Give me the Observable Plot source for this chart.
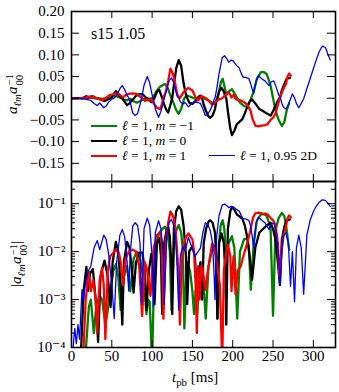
<!DOCTYPE html>
<html><head><meta charset="utf-8">
<script src="https://cdn.jsdelivr.net/npm/d3@7"></script>
<script src="https://cdn.jsdelivr.net/npm/@observablehq/plot@0.6"></script>
<style>
body{margin:0;background:#fff;}
#wrap{position:relative;width:339px;height:392px;font-family:"Liberation Serif","DejaVu Serif",serif;color:#000;overflow:hidden;}
#wrap svg{position:absolute;left:0;overflow:visible;}
.ov{position:absolute;white-space:nowrap;font-size:15px;line-height:1;}
.leg{line-height:12px;}
.rot{transform:translate(-50%,-50%) rotate(-90deg);}
.ss{display:inline-flex;flex-direction:column;font-size:0.72em;line-height:0.95;vertical-align:middle;margin-left:1px;}
sub{font-size:0.72em;line-height:0;}
.lg{position:absolute;height:0;border-top-style:solid;}
</style></head><body><div id="wrap"></div>
<script>
// ---- data: [t_pb (ms), a_lm / a_00] ----
const green = [[0,1e-6],[16,5e-5],[18,1e-4],[21.5,7e-4],[24,1e-3],[27.7,2e-4],[31,-8e-4],[35,-1.2e-3],[38,-1e-3],[42,-3e-4],[45,6e-4],[48,1.5e-3],[52,4e-3],[55,5.5e-3],[58,3e-3],[61,6e-4],[65,-3e-3],[69,-5e-3],[71,-2.5e-3],[73,-1.5e-3],[77,-7e-3],[81,-0.01],[85,-0.007],[89,-0.003],[93,-5e-4],[95,-1e-3],[97,-9e-4],[100,5e-5],[103,0.008],[106,0.018],[109,0.025],[113,0.03],[116,0.033],[119,0.025],[122,0.01],[124,6e-4],[127,-0.013],[130,-0.028],[133,-0.036],[136,-0.025],[138,-0.012],[140,-2.5e-4],[143,0.006],[147,0.004],[150,1.5e-3],[152,5e-4],[154,-1.5e-3],[156,-5e-4],[158,2e-3],[161,4e-3],[164,2e-3],[166.5,4e-4],[170,-5e-3],[174,-0.01],[177,-0.013],[179,-0.008],[181,4e-4],[183,0.015],[185,0.035],[187.5,0.045],[189.5,0.03],[192,0.008],[195,0.015],[199,0.021],[202,0.012],[205.6,4e-4],[209,-0.01],[214,-0.018],[218,-0.019],[220,-0.012],[222.5,-1.6e-3],[226,0.015],[230,0.045],[235,0.06],[239,0.06],[242,0.056],[245,0.04],[247,0.029],[250,4.6e-4],[253,-0.028],[257,-0.05],[261,-0.064],[264,-0.055],[267,-0.028],[270,-0.011]];
const black = [[0,1e-6],[10,3e-5],[12,1e-4],[15,1.5e-3],[18.5,4.8e-3],[20.5,1.5e-3],[23,3.5e-3],[26.5,4.3e-3],[30,1e-3],[33,1.3e-4],[36,-3e-3],[38,-4.3e-3],[41,-6.5e-3],[45,-3e-3],[48.5,-7e-4],[51,6e-3],[55,0.016],[58,0.01],[61,0.002],[63,3e-4],[65,-0.006],[69,-0.016],[72,-0.012],[75,-0.004],[77,-1.4e-3],[80,0.006],[84,0.0095],[88,0.0095],[91,0.004],[93,6e-4],[96,-0.004],[99,-0.009],[101,-0.005],[103,8e-4],[106,0.015],[109,0.019],[111,0.008],[112.5,5e-4],[115,-0.015],[118,-0.028],[120,-0.033],[122,-0.02],[124,-0.005],[125,5e-4],[127,0.03],[130,0.07],[133,0.088],[136,0.075],[139,0.035],[142,0.008],[143.5,8e-4],[146,-0.01],[150,-0.013],[153,-0.008],[156,-1e-3],[158,0.004],[160,0.006],[162,1e-3],[164,-0.015],[167,-0.03],[170,-0.042],[172,-0.045],[175,-0.04],[178,-0.025],[180,-0.005],[181,4e-4],[183,0.015],[186,0.024],[189,0.015],[191,0.003],[192,3e-4],[194,-0.03],[197,-0.07],[199,-0.085],[202,-0.075],[205,-0.06],[208,-0.055],[212,-0.048],[215,-0.035],[218,-0.02],[221,-0.008],[224,-0.0026],[228,-0.012],[233,-0.025],[238,-0.03],[243,-0.036],[247,-0.04],[250,-0.03],[253,-0.018],[256,-0.006],[258.5,0.002],[261,0.018],[264,0.033],[267,0.045],[271,0.047]];
const red = [[0,1e-6],[13,5e-5],[15,1e-4],[17.6,1e-3],[21.5,3.8e-3],[24,1.5e-3],[27,2.5e-3],[30,1e-3],[31.8,2e-4],[35,-2.6e-3],[38,-4.5e-3],[40,-2e-3],[42,-1.5e-4],[45,4e-3],[48,8e-3],[51,9e-3],[55,0.011],[59,0.009],[61,0.006],[64,0.002],[67,0.007],[71,0.01],[76,0.011],[80,0.01],[84,0.005],[87.6,4.5e-4],[91,-0.006],[94,-0.004],[98,-1.2e-3],[102,-0.012],[106,-0.022],[110,-0.025],[112,-0.015],[114,4e-4],[117,0.015],[120,0.04],[122.7,0.068],[125,0.06],[127,0.048],[129,0.03],[131,0.01],[133,0.003],[134.5,3e-4],[137,0.008],[139,0.014],[142,0.02],[145,0.024],[148,0.02],[150,0.018],[152,0.01],[154,0.002],[155.5,-2e-4],[157,-0.005],[159,-1e-3],[161,0.005],[163,0.004],[166,-1.6e-3],[170,-0.005],[174.5,-0.015],[178,-0.01],[181,-0.005],[184,-0.002],[187,5e-5],[189,0.004],[191.3,0.008],[194,0.014],[197,0.008],[198.5,1.5e-3],[201,0.008],[203.5,-1.3e-3],[206,-0.004],[210,-0.005],[214,-0.009],[218,-0.015],[222,-0.028],[225,-0.05],[228,-0.063],[232,-0.065],[236,-0.063],[240,-0.062],[243,-0.06],[247,-0.05],[250,-0.045],[253,-0.036],[256,-0.015],[258,-0.003],[260,0.008],[263,0.022],[266,0.033],[268,0.05],[270,0.057],[272,0.052]];
const blue = [[0,1e-6],[1,5e-5],[2,1e-4],[4,2.5e-4],[6,1.2e-4],[8,3e-4],[10,1.5e-4],[13,-1.6e-3],[15,-1e-3],[17,-2e-3],[21,-4e-3],[24,-5e-3],[28,-0.012],[32,-0.017],[35,-0.011],[40,-0.022],[43,-0.018],[46,-0.009],[50,-0.002],[53,4e-4],[56,0.006],[60,0.022],[63,0.029],[66,0.02],[69,0.006],[71,0.0015],[73,-0.01],[76,-0.034],[79,-0.04],[82,-0.035],[85,-0.015],[87,8e-4],[90,0.03],[94,0.05],[97,0.035],[100,0.008],[101.5,7e-4],[104,-0.025],[108,-0.044],[111,-0.03],[114,-0.008],[115,-8e-4],[118,0.02],[121,0.04],[124,0.047],[127,0.035],[129,0.02],[131,0.005],[133,6e-4],[135,-0.008],[138,-0.013],[141,-0.01],[145,-0.02],[148,-0.014],[150,-0.012],[153,-0.008],[157,-0.01],[160,-0.012],[163,-0.025],[166,-0.04],[169,-0.037],[172,-0.028],[175,-0.015],[177,-0.003],[178,1e-3],[180,0.02],[183,0.056],[187,0.094],[190,0.098],[193,0.09],[195,0.083],[198,0.088],[200,0.087],[203,0.08],[205,0.075],[208,0.07],[211,0.055],[213,0.048],[216,0.048],[220,0.045],[222,0.035],[224,0.022],[226,0.012],[229,0.04],[232,0.052],[236,0.045],[240,0.04],[245,0.029],[248,0.038],[251,0.04],[254,0.025],[257,0.008],[259,0.002],[261,-0.012],[263,-0.021],[266,-0.025],[269,-0.015],[271.7,-0.0019],[274,0.01],[276.7,9e-4],[279,-0.012],[282,-0.022],[285,-0.012],[288,-1.3e-3],[292,0.022],[296,0.045],[300,0.068],[303,0.085],[307,0.106],[311,0.12],[315,0.117],[318,0.102],[321,0.088]];

const xTicks = [0, 50, 100, 150, 200, 250, 300];
const yTicksTop = [-0.15, -0.10, -0.05, 0.00, 0.05, 0.10, 0.15, 0.20];
const yTicksLog = [1e-4, 1e-3, 1e-2, 1e-1];
const logLabels = ["10\u207B\u2074", "10\u207B\u00B3", "10\u207B\u00B2", "10\u207B\u00B9"];
const legendLabels = ["<i>ℓ</i> = 1, <i>m</i> = −1", "<i>ℓ</i> = 1, <i>m</i> = 0", "<i>ℓ</i> = 1, <i>m</i> = 1", "<i>ℓ</i> = 1, 0.95 2D"];

// ---- series table ----
const series = [
  {pts: green, color: "#008000", w: 2.3},
  {pts: black, color: "#000000", w: 2.3},
  {pts: red,   color: "#ff0000", w: 2.3},
  {pts: blue,  color: "#0000ff", w: 1.3}
].map(s => ({...s, rows: s.pts.map(([t, v]) => ({t, v, a: Math.abs(v)}))}));

const minorLog = [];
for (let e = -4; e <= -1; e++) for (let k = 2; k <= 9; k++) { const v = k * 10 ** e; if (v < 0.29) minorLog.push(v); }

const W = 339, ML = 71, MR = 4;
const PW = W - ML - MR;
const font = "Liberation Serif, DejaVu Serif, serif";
const xDom = [0, 327.5];

const wrap = document.getElementById("wrap");

// ---- top panel ----
const H1 = 182, MT1 = 11, MB1 = 1, FH1 = H1 - MT1 - MB1;
const topPlot = Plot.plot({
  width: W, height: H1, marginLeft: ML, marginRight: MR, marginTop: MT1, marginBottom: MB1,
  x: {domain: xDom, axis: null},
  y: {domain: [-0.192, 0.2], axis: null},
  style: {fontFamily: font, fontSize: "15px", background: "transparent", color: "black"},
  marks: [
    ...series.map(s => Plot.line(s.rows, {x: "t", y: "v", stroke: s.color, strokeWidth: s.w, clip: true})),
    Plot.tickX(xTicks, {x: d => d, insetTop: FH1 - 7, stroke: "black"}),
    Plot.tickX(xTicks, {x: d => d, insetBottom: FH1 - 7, stroke: "black"}),
    Plot.tickY(yTicksTop, {y: d => d, insetRight: PW - 8, stroke: "black"}),
    Plot.tickY(yTicksTop, {y: d => d, insetLeft: PW - 8, stroke: "black"}),
    Plot.text(yTicksTop, {y: d => d, text: d => d3.format(".2f")(d), frameAnchor: "left", textAnchor: "end", dx: -7, fontSize: 15, fontFamily: font}),
    Plot.frame({stroke: "black", strokeWidth: 1.6})
  ]
});
topPlot.style.top = "0px";
wrap.appendChild(topPlot);

// ---- bottom panel ----
const H2 = 212, MT2 = 1, MB2 = 45, FH2 = H2 - MT2 - MB2;
const botPlot = Plot.plot({
  width: W, height: H2, marginLeft: ML, marginRight: MR, marginTop: MT2, marginBottom: MB2,
  x: {domain: xDom, axis: null},
  y: {type: "log", domain: [1e-4, 0.29], axis: null},
  style: {fontFamily: font, fontSize: "15px", background: "transparent", color: "black"},
  marks: [
    ...series.map(s => Plot.line(s.rows, {x: "t", y: "a", stroke: s.color, strokeWidth: s.w, clip: true})),
    Plot.tickX(xTicks, {x: d => d, insetTop: FH2 - 7, stroke: "black"}),
    Plot.tickX(xTicks, {x: d => d, insetBottom: FH2 - 7, stroke: "black"}),
    Plot.tickY(yTicksLog, {y: d => d, insetRight: PW - 8, stroke: "black"}),
    Plot.tickY(yTicksLog, {y: d => d, insetLeft: PW - 8, stroke: "black"}),
    Plot.tickY(minorLog, {y: d => d, insetRight: PW - 4, stroke: "black"}),
    Plot.tickY(minorLog, {y: d => d, insetLeft: PW - 4, stroke: "black"}),
    Plot.text(yTicksLog, {y: d => d, text: (d, i) => logLabels[i], frameAnchor: "left", textAnchor: "end", dx: -6, fontSize: 15, fontFamily: font}),
    Plot.text(xTicks, {x: d => d, text: d => String(d), frameAnchor: "bottom", lineAnchor: "top", dy: 3, fontSize: 15, fontFamily: font}),
    Plot.frame({stroke: "black", strokeWidth: 1.6})
  ]
});
botPlot.style.top = "180px";
wrap.appendChild(botPlot);

// ---- text overlays ----
function add(html, cls, css) {
  const d = document.createElement("div");
  d.className = cls; d.innerHTML = html;
  Object.assign(d.style, css);
  wrap.appendChild(d);
  return d;
}
add("s15 1.05", "ov", {left: "91px", top: "26px", fontSize: "16px"});
add('<i>a</i><sub><i>ℓm</i></sub><i>a</i><span class="ss"><span>−1</span><span>00</span></span>', "ov rot", {left: "14px", top: "94px", fontSize: "15px"});
add('|<i>a</i><sub><i>ℓm</i></sub><i>a</i><span class="ss"><span>−1</span><span>00</span></span>|', "ov rot", {left: "18px", top: "264px", fontSize: "15px"});
add('<i>t</i><sub>pb</sub> [ms]', "ov", {left: "172px", top: "370px", fontSize: "15px"});

// legend
const legendPos = [[91, 126], [91, 141], [91, 156], [209, 156]];
series.forEach((s, i) => {
  const [lx, ly] = legendPos[i];
  add("", "lg", {left: lx + "px", top: (ly - s.w / 2) + "px", width: "26px", borderTopWidth: s.w + "px", borderTopColor: s.color});
  add(legendLabels[i], "ov leg", {left: (lx + 31) + "px", top: (ly - 6) + "px", fontSize: "13.5px"});
});
</script>
</body></html>
